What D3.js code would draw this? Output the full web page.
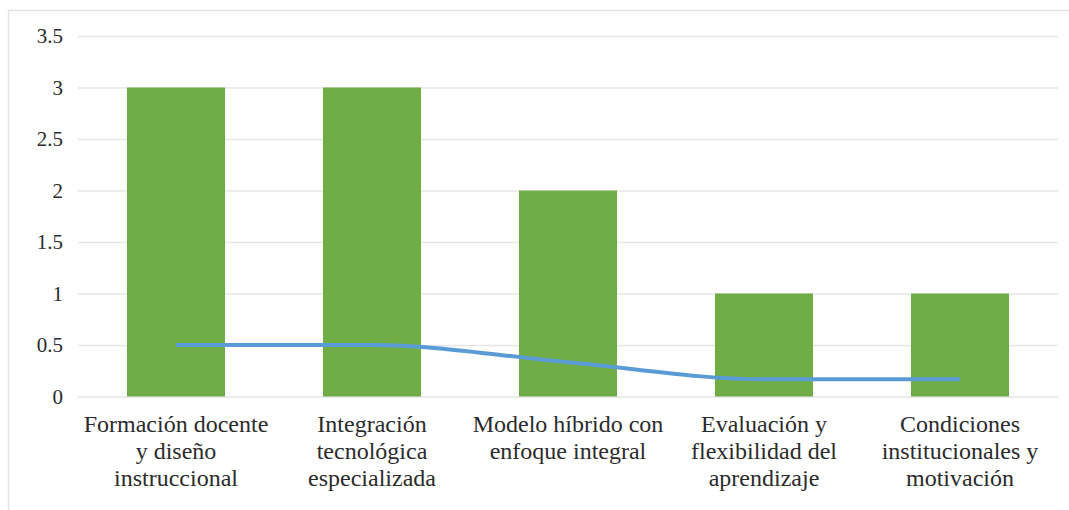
<!DOCTYPE html>
<html>
<head>
<meta charset="utf-8">
<script src="https://cdn.jsdelivr.net/npm/d3@7"></script>
<style>
  html, body { margin: 0; padding: 0; background: #ffffff; }
  svg { display: block; }
</style>
</head>
<body>
<svg id="chart" width="1069" height="510"></svg>
<script>
// Categories (each split into the lines shown under the axis)
const categories = [
  "Formación docente y diseño instruccional",
  "Integración tecnológica especializada",
  "Modelo híbrido con enfoque integral",
  "Evaluación y flexibilidad del aprendizaje",
  "Condiciones institucionales y motivación"
];
const categoryLines = [
  ["Formación docente", "y diseño", "instruccional"],
  ["Integración", "tecnológica", "especializada"],
  ["Modelo híbrido con", "enfoque integral"],
  ["Evaluación y", "flexibilidad del", "aprendizaje"],
  ["Condiciones", "institucionales y", "motivación"]
];
// Bar series (frequency)
const barValues = [3, 3, 2, 1, 1];
// Line series (proportion)
const lineValues = [0.5, 0.5, 0.333, 0.167, 0.167];
// Y-axis ticks
const yTicks = [0, 0.5, 1, 1.5, 2, 2.5, 3, 3.5];
const yTickLabels = ["0", "0.5", "1", "1.5", "2", "2.5", "3", "3.5"];

const FONT = "Tinos, 'Times New Roman', Times, 'Liberation Serif', 'Noto Serif', 'DejaVu Serif', serif";

const svg = d3.select("#chart");

// Chart frame
svg.append("rect")
  .attr("x", 8.5).attr("y", 10.5)
  .attr("width", 1200).attr("height", 600)
  .attr("fill", "none")
  .attr("stroke", "#e3e3e3")
  .attr("stroke-width", 1.5);

const plot = { left: 78, right: 1058, top: 36, bottom: 396.5 };

const x = d3.scaleBand()
  .domain(categories)
  .range([plot.left, plot.right])
  .paddingInner(0.5)
  .paddingOuter(0.25);

const y = d3.scaleLinear()
  .domain([0, 3.5])
  .range([plot.bottom, plot.top]);

// Gridlines + y tick labels
const yAxis = d3.axisLeft(y)
  .tickValues(yTicks)
  .tickFormat((d, i) => yTickLabels[i])
  .tickSize(-(plot.right - plot.left))
  .tickPadding(15);

const gy = svg.append("g")
  .attr("transform", `translate(${plot.left},0)`)
  .call(yAxis);
gy.select(".domain").remove();
gy.attr("font-family", FONT).attr("font-size", 21);
gy.selectAll(".tick line")
  .attr("stroke", "#e6e6e6")
  .attr("stroke-width", 1.6);
gy.selectAll(".tick text")
  .attr("fill", "#2b2b2b");

// Bars
svg.append("g")
  .selectAll("rect")
  .data(barValues)
  .join("rect")
  .attr("x", (d, i) => x(categories[i]))
  .attr("y", d => y(d))
  .attr("width", x.bandwidth())
  .attr("height", d => y(0) - y(d))
  .attr("fill", "#70ad47");

// Smoothed line
const line = d3.line()
  .x((d, i) => x(categories[i]) + x.bandwidth() / 2)
  .y(d => y(d))
  .curve(d3.curveMonotoneX);

svg.append("path")
  .datum(lineValues)
  .attr("d", line)
  .attr("fill", "none")
  .attr("stroke", "#5b9bd5")
  .attr("stroke-width", 4)
  .attr("stroke-linecap", "butt");

// Category labels
const labels = svg.append("g")
  .attr("font-family", FONT)
  .attr("font-size", 24)
  .attr("fill", "#2b2b2b")
  .attr("text-anchor", "middle");

categoryLines.forEach((lines, i) => {
  const cx = x(categories[i]) + x.bandwidth() / 2;
  const t = labels.append("text")
    .attr("x", cx)
    .attr("y", 432);
  lines.forEach((ln, j) => {
    t.append("tspan")
      .attr("x", cx)
      .attr("dy", j === 0 ? 0 : 27)
      .text(ln);
  });
});
</script>
</body>
</html>
